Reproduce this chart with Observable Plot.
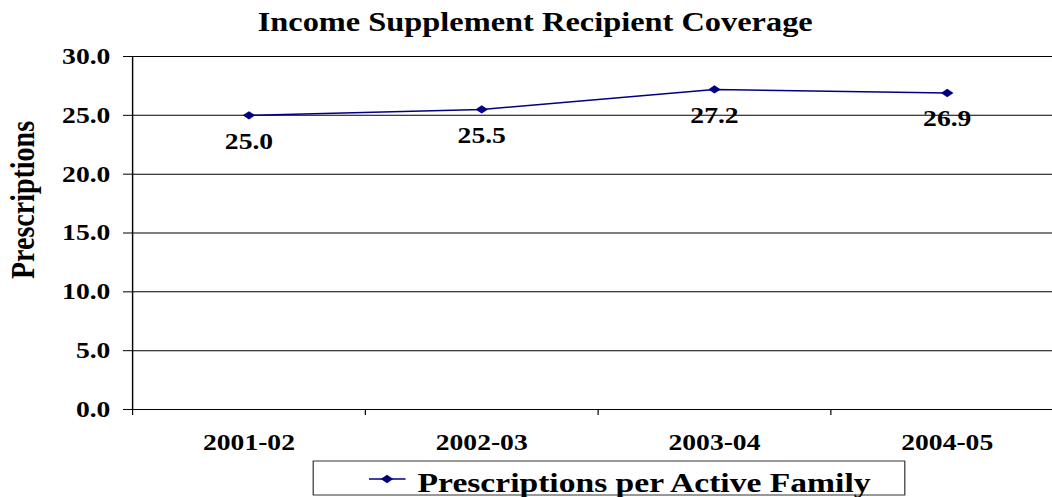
<!DOCTYPE html>
<html>
<head>
<meta charset="utf-8">
<script src="https://cdn.jsdelivr.net/npm/d3@7"></script>
<script src="https://cdn.jsdelivr.net/npm/@observablehq/plot@0.6"></script>
<style>
  html, body { margin: 0; padding: 0; background: #fff; }
  #chart { width: 1052px; height: 497px; overflow: hidden; }
</style>
</head>
<body>
<div id="chart"></div>
<script>
// Prescriptions per active family, income supplement recipients
const periods = ["2001-02", "2002-03", "2003-04", "2004-05"];
const prescriptions = [25.0, 25.5, 27.2, 26.9];
const yTicks = [0, 5, 10, 15, 20, 25, 30];

const chartTitle = "Income Supplement Recipient Coverage";
const yLabel = "Prescriptions";
const seriesName = "Prescriptions per Active Family";

// The chart is laid out in a narrower coordinate space and widened to
// the page by the viewBox, which gives the wide serif lettering.
const STRETCH = 1.2;
const PAGE_W = 1052, PAGE_H = 497;
const W = PAGE_W / STRETCH, H = PAGE_H;
const SERIF = "'Liberation Serif', 'Times New Roman', Times, serif";
const NAVY = "#000080";
const MARKER_R = 5.2;

// a diamond a little wider than it is tall
const flatDiamond = {
  draw(context, size) {
    const r = Math.sqrt(size / Math.PI);
    const h = r * 0.8;
    context.moveTo(-r, 0);
    context.lineTo(0, -h);
    context.lineTo(r, 0);
    context.lineTo(0, h);
    context.closePath();
  }
};

const points = prescriptions.map((v, i) => ({period: periods[i], index: i + 0.5, value: v}));

const svg = Plot.plot({
  width: W,
  height: H,
  marginLeft: 110,
  marginRight: 0,
  marginTop: 56,
  marginBottom: 88,
  style: {fontFamily: SERIF, fontWeight: "bold", color: "black", background: "white"},
  x: {type: "linear", domain: [0, periods.length], range: [110, 1063 / STRETCH]},
  y: {domain: [0, 30], range: [409, 56]},
  marks: [
    // horizontal gridlines
    Plot.ruleY(yTicks.filter(v => v > 0), {stroke: "black", strokeWidth: 1}),
    // axis lines
    Plot.ruleY([0], {stroke: "black", strokeWidth: 1.2}),
    Plot.ruleX([0], {y1: 0, y2: 30, stroke: "black", strokeWidth: 1.2}),
    Plot.axisY({
      ticks: yTicks,
      tickSize: 7.5,
      tickPadding: 11,
      tickFormat: d3.format(".1f"),
      fontSize: 23,
      fontWeight: "bold",
      label: null
    }),
    // category boundary ticks
    Plot.axisX({
      ticks: d3.range(periods.length + 1),
      tickSize: 6,
      tickFormat: () => "",
      label: null
    }),
    // category labels in the middle of each slot
    Plot.axisX({
      ticks: periods.map((p, i) => i + 0.5),
      tickSize: 0,
      tickPadding: 24,
      tickFormat: v => periods[Math.floor(v)],
      fontSize: 23,
      fontWeight: "bold",
      label: null
    }),
    Plot.line(points, {x: "index", y: "value", stroke: NAVY, strokeWidth: 1.5}),
    Plot.dot(points, {x: "index", y: "value", r: MARKER_R, symbol: flatDiamond, fill: NAVY, stroke: "none"}),
    Plot.text(points, {
      x: "index", y: "value",
      text: d => d3.format(".1f")(d.value),
      dy: 26,
      fontSize: 23,
      fontWeight: "bold",
      fill: "black"
    })
  ]
});

const root = d3.select(svg);

// chart title
root.append("text")
  .attr("x", 446)
  .attr("y", 31)
  .attr("text-anchor", "middle")
  .attr("font-family", SERIF)
  .attr("font-size", 27)
  .attr("font-weight", "bold")
  .attr("fill", "black")
  .text(chartTitle);

// y axis title
root.append("text")
  .attr("transform", "translate(18.5,200) rotate(-90)")
  .attr("text-anchor", "middle")
  .attr("dominant-baseline", "central")
  .attr("font-family", SERIF)
  .attr("font-size", 28)
  .attr("font-weight", "bold")
  .attr("fill", "black")
  .text(yLabel);

// legend box
const legend = root.append("g");
legend.append("rect")
  .attr("x", 261).attr("y", 461)
  .attr("width", 493).attr("height", 34)
  .attr("fill", "white")
  .attr("stroke", "#333")
  .attr("stroke-width", 1);
legend.append("line")
  .attr("x1", 307.5).attr("x2", 338)
  .attr("y1", 479).attr("y2", 479)
  .attr("stroke", NAVY).attr("stroke-width", 1.5);
legend.append("path")
  .attr("transform", "translate(322.5,479)")
  .attr("d", d3.symbol(flatDiamond, Math.PI * MARKER_R * MARKER_R)())
  .attr("fill", NAVY);
legend.append("text")
  .attr("x", 348).attr("y", 492)
  .attr("text-anchor", "start")
  .attr("font-family", SERIF)
  .attr("font-size", 28)
  .attr("font-weight", "bold")
  .attr("fill", "black")
  .text(seriesName);

// widen to the page
svg.setAttribute("viewBox", `0 0 ${W} ${H}`);
svg.setAttribute("preserveAspectRatio", "none");
svg.setAttribute("width", PAGE_W);
svg.setAttribute("height", PAGE_H);
svg.style.width = PAGE_W + "px";
svg.style.height = PAGE_H + "px";
svg.style.maxWidth = "none";

document.getElementById("chart").appendChild(svg);
</script>
</body>
</html>
